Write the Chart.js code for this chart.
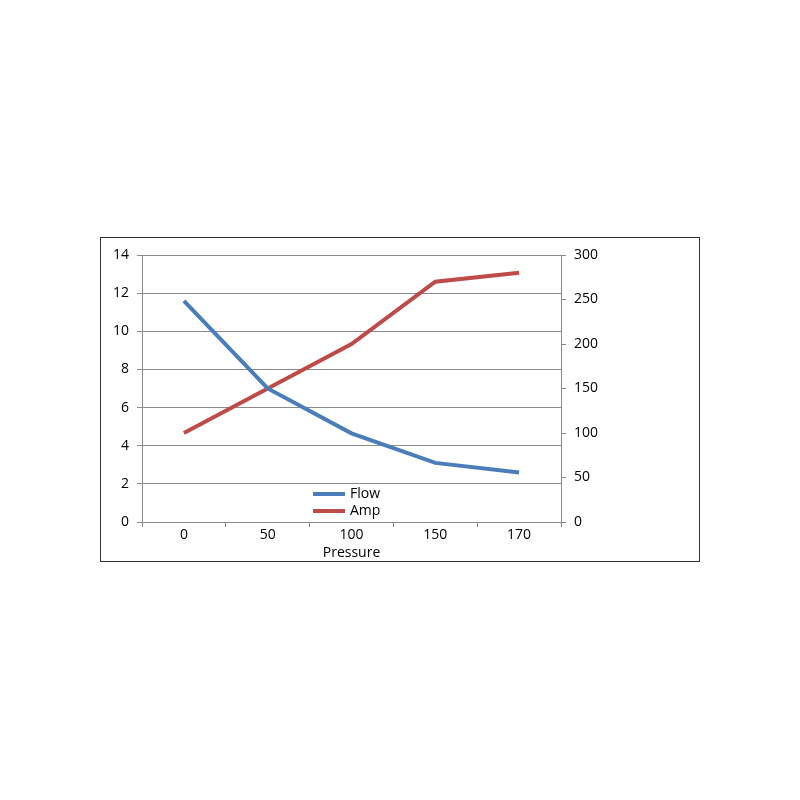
<!DOCTYPE html>
<html>
<head>
<meta charset="utf-8">
<script src="https://cdn.jsdelivr.net/npm/chart.js@4"></script>
<style>
  body { margin: 0; background: #fff; }
  #frame {
    position: absolute; left: 100px; top: 237px;
    width: 598px; height: 323px;
    border: 1px solid #333;
  }
  canvas { display: block; }
</style>
</head>
<body>
<div id="frame"><canvas id="chart" width="598" height="323"></canvas></div>
<script>
// Chart data
const pressure = ['0', '50', '100', '150', '170'];
const flow = [11.6, 7.0, 4.65, 3.1, 2.6];
const amp = [100, 150, 200, 270, 280];
const flowTicks = [0, 2, 4, 6, 8, 10, 12, 14];
const ampTicks = [0, 50, 100, 150, 200, 250, 300];

const FONT = '"Open Sans", sans-serif';
const AXIS_GREY = '#8a8a8a';

// Legend drawn inside the plot, low in the middle
const innerLegend = {
  id: 'innerLegend',
  afterDatasetsDraw(chart) {
    const ctx = chart.ctx;
    const x0 = 212, y0 = 256, gap = 17;
    ctx.save();
    ctx.font = '14px ' + FONT;
    ctx.textBaseline = 'middle';
    chart.data.datasets.forEach((ds, i) => {
      const y = y0 + i * gap;
      ctx.strokeStyle = ds.borderColor;
      ctx.lineWidth = 4;
      ctx.beginPath();
      ctx.moveTo(x0, y);
      ctx.lineTo(x0 + 32, y);
      ctx.stroke();
      ctx.fillStyle = '#000';
      ctx.fillText(ds.label, x0 + 37, y);
    });
    ctx.restore();
  }
};

new Chart(document.getElementById('chart').getContext('2d'), {
  type: 'line',
  data: {
    labels: pressure,
    datasets: [
      { label: 'Flow', data: flow, yAxisID: 'y', borderColor: '#4a7ebb', borderWidth: 4, pointRadius: 0, tension: 0 },
      { label: 'Amp', data: amp, yAxisID: 'y1', borderColor: '#be4b48', borderWidth: 4, pointRadius: 0, tension: 0 }
    ]
  },
  options: {
    responsive: false,
    animation: false,
    layout: { padding: { top: 17, right: 98, left: 0, bottom: 0 } },
    plugins: { legend: { display: false }, tooltip: { enabled: false } },
    scales: {
      x: {
        offset: true,
        grid: { offset: true, drawOnChartArea: false, drawTicks: true, tickLength: 5, color: AXIS_GREY },
        border: { display: false },
        ticks: { color: '#000', font: { family: FONT, size: 14 }, padding: 0 },
        title: { display: true, text: 'Pressure', color: '#000', font: { family: FONT, size: 14 }, padding: 0 },
        afterFit(s) { s.height = 39; }
      },
      y: {
        position: 'left',
        min: 0, max: 14,
        afterBuildTicks(s) { s.ticks = flowTicks.map(v => ({ value: v })); },
        grid: { color: AXIS_GREY, tickLength: 5 },
        border: { color: AXIS_GREY },
        ticks: { color: '#000', font: { family: FONT, size: 14 }, padding: 8 },
        afterFit(s) { s.width = 41; }
      },
      y1: {
        position: 'right',
        min: 0, max: 300,
        afterBuildTicks(s) { s.ticks = ampTicks.map(v => ({ value: v })); },
        grid: { drawOnChartArea: false, color: AXIS_GREY, tickLength: 5 },
        border: { color: AXIS_GREY },
        ticks: { color: '#000', font: { family: FONT, size: 14 }, padding: 8 },
        afterFit(s) { s.width = 40; }
      }
    }
  },
  plugins: [innerLegend]
});
</script>
</body>
</html>
